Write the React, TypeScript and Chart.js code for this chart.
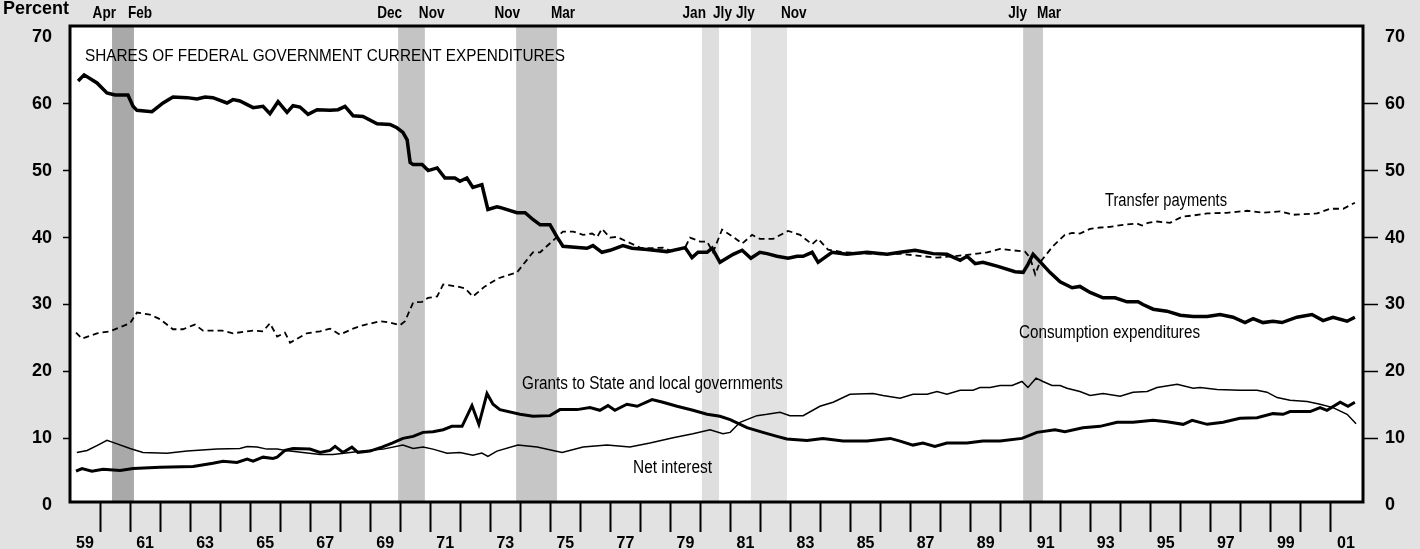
import React, { useEffect, useRef } from "react";
import { Chart, registerables } from "chart.js";

Chart.register(...registerables);

// ---------- Data ----------
const consumptionYears = [
  1959.27, 1959.47, 1959.9, 1960.23, 1960.5, 1960.93, 1961.1, 1961.23, 1961.73, 1962.1,
  1962.43, 1962.9, 1963.23, 1963.5, 1963.76, 1964.23, 1964.43, 1964.66, 1965.1, 1965.43,
  1965.66, 1965.93, 1966.23, 1966.43, 1966.66, 1966.93, 1967.23, 1967.66, 1967.93, 1968.16,
  1968.43, 1968.76, 1969.23, 1969.66, 1969.89, 1970.09, 1970.23, 1970.33, 1970.43, 1970.73,
  1970.93, 1971.23, 1971.49, 1971.82, 1971.99, 1972.22, 1972.42, 1972.72, 1972.92, 1973.22,
  1973.32, 1973.89, 1974.16, 1974.42, 1974.66, 1974.99, 1975.22, 1975.42, 1976.22, 1976.42,
  1976.72, 1976.99, 1977.42, 1977.72, 1978.22, 1978.89, 1979.49, 1979.72, 1979.92, 1980.22,
  1980.39, 1980.65, 1981.09, 1981.39, 1981.68, 1981.98, 1982.22, 1982.55, 1982.92, 1983.22,
  1983.42, 1983.72, 1983.92, 1984.38, 1984.88, 1985.55, 1986.22, 1986.65, 1987.15, 1987.75,
  1988.21, 1988.65, 1988.88, 1989.15, 1989.41, 1989.91, 1990.48, 1990.75, 1990.91, 1991.08,
  1991.31, 1991.64, 1991.98, 1992.38, 1992.64, 1992.98, 1993.41, 1993.81, 1994.21, 1994.58,
  1994.74, 1995.08, 1995.54, 1995.98, 1996.41, 1996.88, 1997.31, 1997.74, 1998.14, 1998.41,
  1998.74, 1999.07, 1999.37, 1999.87, 2000.37, 2000.74, 2001.07, 2001.54, 2001.8,
];
const consumptionValues = [
  63.4, 64.3, 63.1, 61.6, 61.3, 61.3, 59.6, 59.0, 58.8, 60.1,
  61.0, 60.9, 60.7, 61.0, 60.9, 60.1, 60.6, 60.4, 59.4, 59.6,
  58.5, 60.3, 58.7, 59.7, 59.5, 58.4, 59.1, 59.0, 59.1, 59.6,
  58.2, 58.1, 57.0, 56.9, 56.4, 55.7, 54.6, 51.2, 50.9, 50.9,
  50.0, 50.4, 48.9, 48.9, 48.4, 48.9, 47.5, 47.9, 44.2, 44.6,
  44.5, 43.7, 43.7, 42.7, 41.9, 41.9, 40.1, 38.7, 38.4, 38.8,
  37.8, 38.1, 38.8, 38.4, 38.2, 37.9, 38.5, 37.0, 37.8, 37.8,
  38.4, 36.3, 37.5, 38.1, 36.9, 37.8, 37.6, 37.2, 36.9, 37.2,
  37.2, 37.8, 36.3, 37.8, 37.5, 37.8, 37.5, 37.8, 38.1, 37.6,
  37.5, 36.6, 37.2, 36.1, 36.3, 35.7, 34.9, 34.8, 36.0, 37.5,
  36.4, 34.8, 33.4, 32.5, 32.7, 31.8, 31.0, 31.0, 30.4, 30.4,
  30.0, 29.3, 29.0, 28.4, 28.2, 28.2, 28.5, 28.1, 27.3, 27.9,
  27.3, 27.5, 27.3, 28.1, 28.5, 27.6, 28.1, 27.5, 28.1,
];

const transferYears = [
  1959.2, 1959.4, 1959.9, 1960.33, 1960.67, 1961.0, 1961.23, 1961.66, 1962.0, 1962.43,
  1962.76, 1963.16, 1963.43, 1964.06, 1964.43, 1965.1, 1965.43, 1965.66, 1965.9, 1966.16,
  1966.33, 1966.89, 1967.33, 1967.66, 1967.99, 1968.43, 1968.76, 1969.33, 1969.66, 1969.99,
  1970.16, 1970.43, 1970.73, 1970.93, 1971.23, 1971.43, 1971.89, 1972.16, 1972.42, 1972.82,
  1973.26, 1973.89, 1974.42, 1974.66, 1975.42, 1975.76, 1976.09, 1976.39, 1976.56, 1976.72,
  1976.99, 1977.22, 1977.55, 1977.99, 1978.32, 1978.75, 1979.09, 1979.49, 1979.65, 1979.99,
  1980.22, 1980.42, 1980.72, 1981.09, 1981.39, 1981.72, 1981.98, 1982.42, 1982.92, 1983.32,
  1983.72, 1983.92, 1984.25, 1984.75, 1985.55, 1986.08, 1986.65, 1987.21, 1987.88, 1988.41,
  1989.08, 1989.55, 1989.98, 1990.81, 1990.98, 1991.15, 1991.31, 1991.74, 1992.14, 1992.38,
  1992.64, 1992.98, 1993.31, 1993.64, 1994.08, 1994.54, 1994.71, 1994.91, 1995.21, 1995.64,
  1996.04, 1996.41, 1996.88, 1997.54, 1998.21, 1998.74, 1999.31, 1999.74, 2000.54, 2000.97,
  2001.41, 2001.8,
];
const transferValues = [
  25.8, 24.9, 25.7, 26.0, 26.6, 27.2, 28.8, 28.5, 27.8, 26.3,
  26.3, 27.0, 26.1, 26.1, 25.7, 26.1, 26.0, 27.2, 25.2, 25.8,
  24.3, 25.7, 26.0, 26.4, 25.5, 26.4, 26.9, 27.5, 27.3, 26.9,
  27.5, 30.3, 30.4, 31.0, 31.2, 33.0, 32.7, 32.4, 31.2, 32.7,
  33.9, 34.8, 37.8, 37.8, 40.9, 40.9, 40.4, 40.6, 40.1, 41.3,
  40.0, 40.1, 39.4, 38.5, 38.4, 38.5, 37.9, 38.5, 40.0, 39.4,
  39.4, 37.8, 41.2, 40.1, 39.1, 40.4, 39.8, 39.8, 41.0, 40.4,
  39.0, 39.8, 38.2, 37.8, 37.6, 37.5, 37.6, 37.3, 37.0, 37.2,
  37.5, 37.8, 38.3, 37.9, 37.0, 34.5, 36.3, 38.7, 40.4, 40.7,
  40.6, 41.3, 41.5, 41.6, 41.9, 42.1, 41.8, 42.2, 42.4, 42.2,
  43.1, 43.3, 43.6, 43.7, 44.0, 43.7, 43.9, 43.4, 43.6, 44.3,
  44.3, 45.2,
];

const grantsYears = [
  1959.2, 1959.4, 1959.73, 1960.1, 1960.67, 1961.1, 1962.0, 1963.1, 1963.76, 1964.1,
  1964.56, 1964.9, 1965.1, 1965.43, 1965.76, 1965.9, 1966.16, 1966.43, 1966.99, 1967.33,
  1967.66, 1967.83, 1968.09, 1968.39, 1968.59, 1968.99, 1969.39, 1969.73, 1970.09, 1970.43,
  1970.76, 1971.09, 1971.43, 1971.72, 1972.06, 1972.39, 1972.62, 1972.89, 1973.09, 1973.32,
  1973.99, 1974.42, 1974.99, 1975.32, 1975.89, 1976.32, 1976.65, 1976.92, 1977.15, 1977.55,
  1977.89, 1978.39, 1978.75, 1979.22, 1979.75, 1980.22, 1980.65, 1980.99, 1981.55, 1982.08,
  1982.55, 1982.88, 1983.55, 1984.08, 1984.75, 1985.55, 1986.32, 1986.65, 1987.08, 1987.41,
  1987.81, 1988.21, 1988.88, 1989.41, 1989.98, 1990.71, 1991.21, 1991.81, 1992.14, 1992.74,
  1993.31, 1993.88, 1994.41, 1995.08, 1995.54, 1996.08, 1996.38, 1996.88, 1997.41, 1997.97,
  1998.54, 1999.07, 1999.41, 1999.64, 2000.31, 2000.64, 2000.87, 2001.31, 2001.57, 2001.8,
];
const grantsValues = [
  5.1, 5.5, 5.1, 5.4, 5.2, 5.5, 5.7, 5.8, 6.3, 6.6,
  6.4, 6.9, 6.6, 7.2, 7.0, 7.2, 8.2, 8.5, 8.4, 7.9,
  8.2, 8.8, 7.9, 8.7, 7.9, 8.1, 8.7, 9.3, 10.0, 10.3,
  10.9, 11.0, 11.3, 11.8, 11.8, 14.9, 12.1, 16.7, 15.1, 14.3,
  13.6, 13.3, 13.4, 14.3, 14.3, 14.6, 14.2, 14.9, 14.2, 15.1,
  14.8, 15.8, 15.4, 14.8, 14.2, 13.6, 13.3, 12.8, 11.6, 10.9,
  10.3, 9.9, 9.7, 10.0, 9.6, 9.6, 10.0, 9.6, 9.0, 9.3,
  8.8, 9.3, 9.3, 9.6, 9.6, 10.0, 10.9, 11.3, 11.0, 11.6,
  11.8, 12.4, 12.4, 12.7, 12.5, 12.1, 12.7, 12.1, 12.4, 13.0,
  13.1, 13.7, 13.6, 14.0, 14.0, 14.6, 14.2, 15.4, 14.8, 15.4,
];

const interestYears = [
  1959.23, 1959.57, 1959.93, 1960.23, 1960.5, 1961.0, 1961.43, 1962.23, 1962.9, 1963.9,
  1964.66, 1964.9, 1965.23, 1965.56, 1965.9, 1966.33, 1967.33, 1967.76, 1968.33, 1968.89,
  1969.43, 1970.09, 1970.43, 1970.76, 1971.09, 1971.56, 1971.99, 1972.42, 1972.72, 1972.92,
  1973.22, 1973.92, 1974.56, 1975.39, 1976.09, 1976.89, 1977.65, 1978.32, 1979.09, 1979.75,
  1980.32, 1980.75, 1980.99, 1981.32, 1981.88, 1982.22, 1982.65, 1982.98, 1983.42, 1983.98,
  1984.42, 1984.98, 1985.75, 1986.08, 1986.65, 1987.08, 1987.55, 1987.88, 1988.21, 1988.65,
  1989.08, 1989.31, 1989.65, 1989.98, 1990.38, 1990.71, 1990.91, 1991.18, 1991.41, 1991.71,
  1991.98, 1992.21, 1992.64, 1992.98, 1993.41, 1993.98, 1994.41, 1994.88, 1995.21, 1995.88,
  1996.41, 1996.64, 1997.21, 1997.97, 1998.54, 1998.87, 1999.21, 1999.64, 2000.21, 2000.64,
  2001.07, 2001.54, 2001.84,
];
const interestValues = [
  7.9, 8.2, 9.0, 9.7, 9.3, 8.5, 7.9, 7.8, 8.1, 8.4,
  8.5, 8.8, 8.7, 8.4, 8.4, 8.1, 7.6, 7.6, 7.9, 8.2,
  8.4, 9.0, 8.5, 8.7, 8.4, 7.8, 7.9, 7.5, 7.8, 7.3,
  8.1, 9.0, 8.7, 7.9, 8.7, 9.0, 8.7, 9.3, 10.1, 10.7,
  11.3, 10.7, 10.9, 12.4, 13.4, 13.6, 13.9, 13.4, 13.4, 14.8,
  15.4, 16.6, 16.7, 16.4, 16.0, 16.6, 16.6, 17.0, 16.6, 17.2,
  17.2, 17.6, 17.6, 17.9, 17.9, 18.5, 17.6, 19.0, 18.5, 17.9,
  17.9, 17.5, 17.0, 16.4, 16.7, 16.3, 16.9, 17.0, 17.6, 18.1,
  17.5, 17.6, 17.3, 17.2, 17.2, 16.9, 16.1, 15.7, 15.5, 15.1,
  14.6, 13.6, 12.2,
];

// Recessions (shaded)
const recessionStarts = [1960.4, 1969.93, 1973.86, 1980.05, 1981.68, 1990.75];
const recessionEnds = [1961.13, 1970.82, 1975.22, 1980.62, 1982.88, 1991.41];
const recessionStartLabels = ["Apr", "Dec", "Nov", "Jan", "Jly", "Jly"];
const recessionEndLabels = ["Feb", "Nov", "Mar", "Jly", "Nov", "Mar"];

// Axis ticks
const yTickValues = [0, 10, 20, 30, 40, 50, 60, 70];
const xTickYears = [
  1959, 1960, 1961, 1962, 1963, 1964, 1965, 1966, 1967, 1968, 1969, 1970, 1971, 1972,
  1973, 1974, 1975, 1976, 1977, 1978, 1979, 1980, 1981, 1982, 1983, 1984, 1985, 1986,
  1987, 1988, 1989, 1990, 1991, 1992, 1993, 1994, 1995, 1996, 1997, 1998, 1999, 2000, 2001,
];

// ---------- Styles ----------
const FONT = "'Liberation Sans', Arial, Helvetica, sans-serif";
const bandColors = ["#a9a9a9", "#c4c4c4", "#c6c6c6", "#dedede", "#e2e2e2", "#cacaca"];
const OUTER_BG = "#e2e2e2";

const zip = (xs: number[], ys: number[]) => xs.map((x, i) => ({ x, y: ys[i] }));

function drawText(
  ctx: CanvasRenderingContext2D,
  text: string,
  x: number,
  y: number,
  font: string,
  width: number,
  align: CanvasTextAlign = "left"
) {
  ctx.font = font;
  ctx.textAlign = align;
  ctx.textBaseline = "alphabetic";
  ctx.fillStyle = "#000";
  const natural = ctx.measureText(text).width;
  ctx.fillText(text, x, y, Math.min(natural, width));
}

const backgroundPlugin = {
  id: "bgBands",
  beforeDraw(chart: any) {
    const { ctx, chartArea, scales } = chart;
    const { left, top, right, bottom } = chartArea;
    ctx.save();
    ctx.fillStyle = OUTER_BG;
    ctx.fillRect(0, 0, chart.width, chart.height);
    ctx.fillStyle = "#ffffff";
    ctx.fillRect(left, top, right - left, bottom - top);
    recessionStarts.forEach((s, i) => {
      const x0 = scales.x.getPixelForValue(s);
      const x1 = scales.x.getPixelForValue(recessionEnds[i]);
      ctx.fillStyle = bandColors[i];
      ctx.fillRect(x0, top, x1 - x0, bottom - top);
    });
    ctx.restore();
  },
};

const overlayPlugin = {
  id: "overlay",
  afterDraw(chart: any) {
    const { ctx, chartArea, scales } = chart;
    const { left, top, right, bottom } = chartArea;
    ctx.save();
    // frame
    ctx.strokeStyle = "#000";
    ctx.lineWidth = 3;
    ctx.strokeRect(left, top, right - left, bottom - top);

    // recession month labels
    const lf = `bold 17px ${FONT}`;
    recessionStarts.forEach((s, i) => {
      const xs = scales.x.getPixelForValue(s);
      const xe = scales.x.getPixelForValue(recessionEnds[i]);
      ctx.font = lf;
      const w1 = ctx.measureText(recessionStartLabels[i]).width * 0.8;
      const w2 = ctx.measureText(recessionEndLabels[i]).width * 0.8;
      drawText(ctx, recessionStartLabels[i], xs + 4, 18, lf, w1, "right");
      drawText(ctx, recessionEndLabels[i], xe - 6, 18, lf, w2, "left");
    });

    drawText(ctx, "Percent", 3, 14, `bold 18px ${FONT}`, 67);
    drawText(ctx, "SHARES OF FEDERAL GOVERNMENT CURRENT EXPENDITURES", 85, 61, `17px ${FONT}`, 480);
    drawText(ctx, "Transfer payments", 1105, 206, `18px ${FONT}`, 122);
    drawText(ctx, "Consumption expenditures", 1019, 338, `18px ${FONT}`, 181);
    drawText(ctx, "Grants to State and local governments", 522, 389, `18px ${FONT}`, 261);
    drawText(ctx, "Net interest", 633, 473, `18px ${FONT}`, 79);
    ctx.restore();
  },
};

export default function App() {
  const canvasRef = useRef<HTMLCanvasElement | null>(null);

  useEffect(() => {
    const canvas = canvasRef.current;
    if (!canvas) return;

    const yTickColor = (c: any) =>
      c.tick && (c.tick.value === 0 || c.tick.value === 70) ? "rgba(0,0,0,0)" : "#000";

    const chart = new Chart(canvas, {
      type: "line",
      data: {
        datasets: [
          {
            label: "Consumption expenditures",
            data: zip(consumptionYears, consumptionValues),
            borderColor: "#000",
            borderWidth: 3.5,
            pointRadius: 0,
            tension: 0,
          },
          {
            label: "Transfer payments",
            data: zip(transferYears, transferValues),
            borderColor: "#000",
            borderWidth: 1.8,
            borderDash: [6, 4],
            pointRadius: 0,
            tension: 0,
          },
          {
            label: "Grants to State and local governments",
            data: zip(grantsYears, grantsValues),
            borderColor: "#000",
            borderWidth: 3,
            pointRadius: 0,
            tension: 0,
          },
          {
            label: "Net interest",
            data: zip(interestYears, interestValues),
            borderColor: "#000",
            borderWidth: 1.5,
            pointRadius: 0,
            tension: 0,
          },
        ],
      },
      options: {
        animation: false,
        responsive: false,
        maintainAspectRatio: false,
        layout: { padding: { top: 26, left: 0, right: 0, bottom: 0 } },
        plugins: { legend: { display: false }, tooltip: { enabled: false } },
        scales: {
          x: {
            type: "linear",
            position: "bottom",
            min: 1959,
            max: 2002.07,
            afterBuildTicks: (s: any) => {
              s.ticks = xTickYears.map((v) => ({ value: v }));
            },
            afterFit: (s: any) => {
              s.height = 47;
            },
            border: { display: false },
            grid: {
              drawOnChartArea: false,
              drawTicks: true,
              tickLength: 30,
              tickWidth: 2,
              tickColor: (c: any) => (c.tick && c.tick.value === 1959 ? "rgba(0,0,0,0)" : "#000"),
            },
            ticks: {
              autoSkip: false,
              maxRotation: 0,
              minRotation: 0,
              labelOffset: 15,
              padding: 2,
              color: "#000",
              font: { family: FONT, size: 16, weight: "bold" },
              callback: (v: any) => (Number(v) % 2 === 1 ? String(v).slice(2) : ""),
            },
          },
          y: {
            type: "linear",
            position: "left",
            min: 0.5,
            max: 71.6,
            afterBuildTicks: (s: any) => {
              s.ticks = yTickValues.map((v) => ({ value: v }));
            },
            afterFit: (s: any) => {
              s.width = 70;
            },
            border: { display: false },
            grid: {
              drawOnChartArea: false,
              drawTicks: true,
              tickLength: 7,
              tickWidth: 1.5,
              tickColor: yTickColor,
            },
            ticks: {
              autoSkip: false,
              padding: 11,
              color: "#000",
              font: { family: FONT, size: 18, weight: "bold" },
            },
          },
          y2: {
            type: "linear",
            position: "right",
            min: 0.5,
            max: 71.6,
            afterBuildTicks: (s: any) => {
              s.ticks = yTickValues.map((v) => ({ value: v }));
            },
            afterFit: (s: any) => {
              s.width = 57;
            },
            border: { display: false },
            grid: {
              drawOnChartArea: false,
              drawTicks: true,
              tickLength: 15,
              tickWidth: 1.5,
              tickColor: yTickColor,
            },
            ticks: {
              autoSkip: false,
              padding: 7,
              color: "#000",
              font: { family: FONT, size: 18, weight: "bold" },
            },
          },
        },
      },
      plugins: [backgroundPlugin, overlayPlugin],
    } as any);

    return () => chart.destroy();
  }, []);

  return (
    <div style={{ position: "fixed", left: 0, top: 0, width: 1420, height: 549 }}>
      <canvas ref={canvasRef} width={1420} height={549} style={{ width: 1420, height: 549 }} />
    </div>
  );
}
